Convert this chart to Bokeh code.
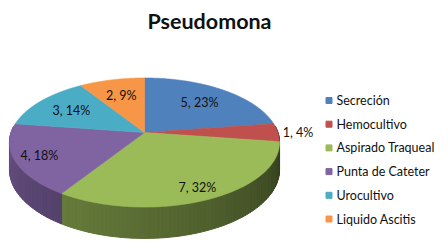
import numpy as np
from bokeh.plotting import figure
from bokeh.models import Range1d
from bokeh.core.properties import value
from bokeh.embed import file_html
from bokeh.resources import INLINE

# ---- data ----
title = "Pseudomona"
categories = ["Secreción", "Hemocultivo", "Aspirado Traqueal",
              "Punta de Cateter", "Urocultivo", "Liquido Ascitis"]
counts = [5, 1, 7, 4, 3, 2]
percents = [23, 4, 32, 18, 14, 9]
colors = ["#4F81BD", "#C0504D", "#9BBB59", "#8064A2", "#4BACC6", "#F79646"]

# ---- geometry / style ----
W, H = 448, 249
cx, cy = 144.0, 132.0
rx, ry, k, depth = 133.4, 63.0, 0.155, 26.5
label_r = [0.68, 1.15, 0.84, 0.82, 0.69, 0.68]
FONT = "Lato"


def proj(phi_deg, r=1.0):
    phi = np.radians(phi_deg)
    u = r * np.sin(phi)
    v = -r * np.cos(phi)
    s = 1.0 / (1.0 - k * v)
    return cx + rx * u * s, cy + ry * v * s, s


def shade(hex_color, f):
    h = hex_color.lstrip("#")
    r, g, b = (int(h[i:i + 2], 16) for i in (0, 2, 4))
    return "#%02x%02x%02x" % (int(r * f), int(g * f), int(b * f))


p = figure(width=W, height=H, x_range=Range1d(0, W), y_range=Range1d(H, 0),
           output_backend="svg", toolbar_location=None, min_border=0,
           min_border_left=0, min_border_right=0, min_border_top=0,
           min_border_bottom=0)
p.axis.visible = False
p.grid.visible = False
p.outline_line_color = None
p.background_fill_color = "white"
p.border_fill_color = "white"

total = float(sum(counts))
angles = np.cumsum([0.0] + [c / total * 360.0 for c in counts])

# ---- sides (front half) ----
sxs, sys_, scol = [], [], []
for i, col in enumerate(colors):
    a0, a1 = max(angles[i], 84.0), min(angles[i + 1], 276.0)
    if a1 <= a0:
        continue
    n = max(2, int((a1 - a0) / 1.5) + 1)
    grid = np.linspace(a0, a1, n + 1)
    for j in range(n):
        g0, g1 = grid[j], grid[j + 1]
        x0, y0, s0 = proj(g0)
        x1, y1, s1 = proj(g1)
        t = (0.5 * (g0 + g1) - 90.0) / 180.0
        t = min(max(t, 0.0), 1.0)
        f = 0.28 + 0.52 * t ** 0.8
        sxs.append([x0, x1, x1, x0])
        sys_.append([y0, y1, y1 + depth * s1, y0 + depth * s0])
        scol.append(shade(col, f))
p.patches(sxs, sys_, fill_color=scol, line_color=scol, line_width=1)

# ---- top faces ----
txs, tys = [], []
for i in range(len(counts)):
    a = np.linspace(angles[i], angles[i + 1], 80)
    x, y, _ = proj(a)
    txs.append([cx] + list(x))
    tys.append([cy] + list(y))
p.patches(txs, tys, fill_color=colors, line_color=colors, line_width=0.6)

# ---- data labels ----
mids = 0.5 * (angles[:-1] + angles[1:])
lx, ly = [], []
for m, r in zip(mids, label_r):
    x, y, _ = proj(m, r)
    lx.append(float(x))
    ly.append(float(y))
labels = [f"{c}, {pc}%" for c, pc in zip(counts, percents)]
p.text(lx, ly, text=labels, text_align="center", text_baseline="middle",
       text_font=value(FONT), text_font_size="12.5px", text_color="#111111")

# ---- title ----
p.text([209], [20], text=[title], text_align="center", text_baseline="middle",
       text_font=value(FONT), text_font_size="21.5px", text_font_style="bold",
       text_color="#111111")

# ---- legend ----
leg_y = [100 + 23.7 * i for i in range(len(categories))]
p.scatter([328.5] * len(categories), leg_y, marker="square", size=6,
          fill_color=colors, line_color=colors)
p.text([336] * len(categories), leg_y, text=categories, text_align="left",
       text_baseline="middle", text_font=value(FONT), text_font_size="12.5px",
       text_color="#111111")

open("out.html", "w").write(file_html(p, INLINE))
